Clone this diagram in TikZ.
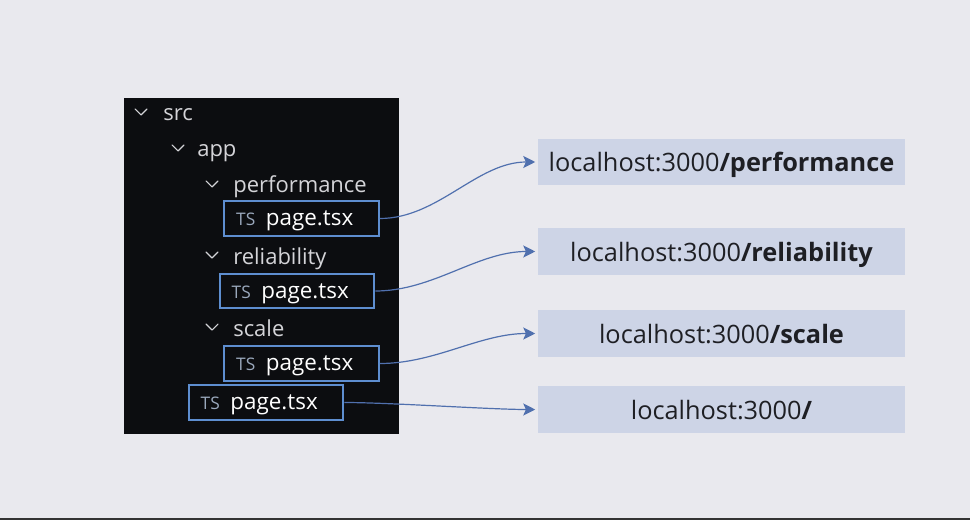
\documentclass[tikz,border=0pt]{standalone}
\usepackage{fontspec}
\setmainfont{Open Sans}
\usetikzlibrary{positioning, arrows.meta}

\definecolor{bgcol}{HTML}{E9E9EE}
\definecolor{panelcol}{HTML}{0C0D10}
\definecolor{filecol}{HTML}{5E8ED0}
\definecolor{tscol}{HTML}{9AA8BC}
\definecolor{treecol}{HTML}{D4D4D8}
\definecolor{urlcol}{HTML}{CDD4E6}
\definecolor{urltext}{HTML}{1E1F24}
\definecolor{arrowcol}{HTML}{5070AE}

\begin{document}
\begin{tikzpicture}[x=0.75pt,y=0.75pt,yscale=-1,xscale=1,
    folder/.style={anchor=base west, inner sep=0pt, text=treecol, font=\fontsize{16.5}{18}\selectfont},
    chevron/.style={draw=treecol, line width=0.8pt, line cap=round, line join=round},
    filebox/.style={draw=filecol, line width=1.5pt, fill=panelcol, text=white, align=left,
        text width=98pt, inner xsep=9pt, text height=13.5pt, text depth=3pt,
        minimum height=26pt, font=\fontsize{16.8}{18}\selectfont},
    urlbox/.style={fill=urlcol, minimum width=275pt, minimum height=35pt, text=urltext,
        text height=18.5pt, text depth=3.8pt, font=\fontsize{19}{21}\selectfont},
    link/.style={draw=arrowcol, line width=0.9pt, -{Stealth[length=9pt,width=9pt,inset=2pt]}}
]
    %set diagram to 970 x 520
    \fill[bgcol] (0,0) rectangle (970,520);
    \fill[black!80] (0,518) rectangle (970,520);

    %Shape: Panel
    \fill[panelcol] (124,98) rectangle (399,434);

    %Chevrons
    \draw[chevron] (135,109) -- (141,115) -- (147,109);
    \draw[chevron] (172,145) -- (178,151) -- (184,145);
    \draw[chevron] (206,181) -- (212,187) -- (218,181);
    \draw[chevron] (206,252) -- (212,258) -- (218,252);
    \draw[chevron] (206,324) -- (212,330) -- (218,324);

    % Text Node
    \node[folder] (src) at (163,121) {src};
    \node[folder] (app) at (197,157) {app};
    \node[folder] (perf) at (233,193) {performance};
    \node[folder] (reli) at (233,264) {reliability};
    \node[folder] (scal) at (233,336) {scale};

    %Shape: File boxes
    \node[filebox] (pagea) at (301.5,218.5) {{\color{tscol}\fontsize{13}{14}\selectfont TS}\hspace{8pt}page.tsx};
    \node[filebox] (pageb) at (297,291) {{\color{tscol}\fontsize{13}{14}\selectfont TS}\hspace{8pt}page.tsx};
    \node[filebox] (pagec) at (301.5,363.5) {{\color{tscol}\fontsize{13}{14}\selectfont TS}\hspace{8pt}page.tsx};
    \node[filebox] (paged) at (266,402.5) {{\color{tscol}\fontsize{13}{14}\selectfont TS}\hspace{8pt}page.tsx};

    %Shape: Routes
    \node[urlbox] (urla) at (721.5,162) {localhost:3000\textbf{/performance}};
    \node[urlbox] (urlb) at (721.5,251.5) {localhost:3000\textbf{/reliability}};
    \node[urlbox] (urlc) at (721.5,333.5) {localhost:3000\textbf{/scale}};
    \node[urlbox] (urld) at (721.5,409.5) {localhost:3000\textbf{/}};

    %Curve Lines
    \draw[link] (pagea.east) to[out=0, in=180, looseness=0.9] ([xshift=-2pt]urla.west);
    \draw[link] (pageb.east) to[out=0, in=180, looseness=0.9] ([xshift=-2pt]urlb.west);
    \draw[link] (pagec.east) to[out=0, in=180, looseness=0.9] ([xshift=-2pt]urlc.west);
    \draw[link] (paged.east) to[out=0, in=180, looseness=0.6] ([xshift=-2pt]urld.west);

\end{tikzpicture}
\end{document}
